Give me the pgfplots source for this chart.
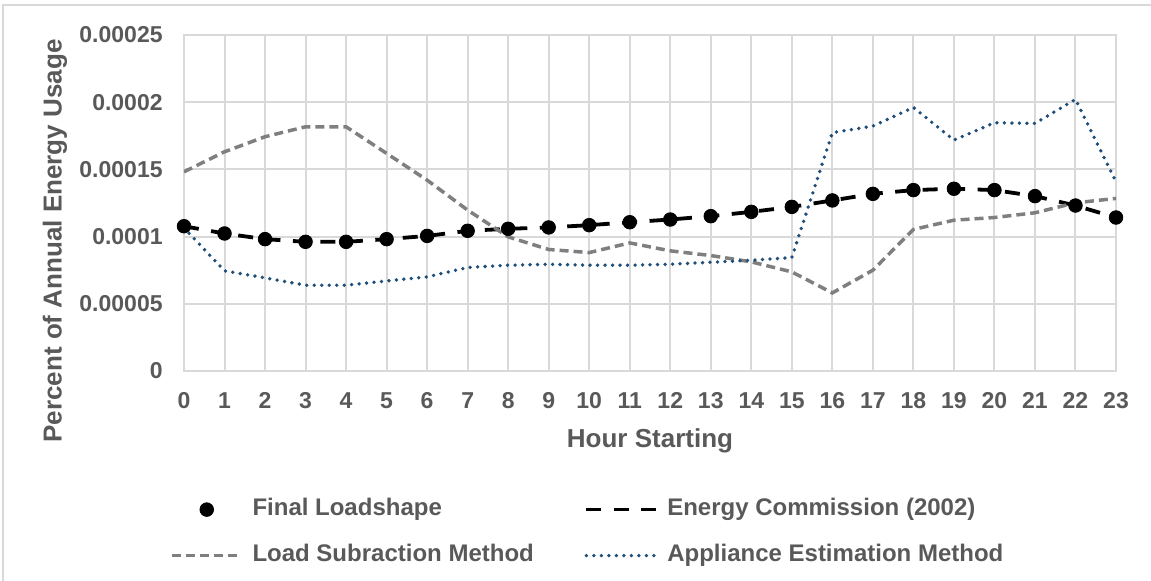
\documentclass[border=0pt]{standalone}
\usepackage{pgfplots}
\usepackage{pgfplotstable}
\pgfplotsset{compat=1.18}
\usepackage{fontspec}
\setmainfont{Liberation Sans}

\definecolor{txt}{HTML}{595959}
\definecolor{gridc}{HTML}{D9D9D9}
\definecolor{lsgray}{HTML}{7F7F7F}
\definecolor{aeblue}{HTML}{1F4E79}

\pgfplotsset{
    dotlegend/.style={legend image code/.code={\draw[##1, only marks] plot coordinates {(17.5pt,0pt)};}},
    linelegend/.style={legend image code/.code={\draw[##1] (0pt,0pt) -- (#1,0pt);}},
}

% hour, final loadshape, energy commission (2002), load subtraction, appliance estimation
\pgfplotstableread{
h final ec ls ae
0 0.0001077 0.0001077 0.0001482 0.0001065
1 0.0001023 0.0001023 0.0001631 0.0000745
2 0.0000981 0.0000981 0.0001743 0.0000693
3 0.0000961 0.0000961 0.0001817 0.0000638
4 0.0000961 0.0000961 0.0001817 0.0000638
5 0.0000981 0.0000981 0.0001619 0.0000670
6 0.0001005 0.0001005 0.0001420 0.0000700
7 0.0001043 0.0001043 0.0001197 0.0000770
8 0.0001058 0.0001058 0.0000998 0.0000787
9 0.0001068 0.0001068 0.0000904 0.0000794
10 0.0001085 0.0001085 0.0000881 0.0000787
11 0.0001107 0.0001107 0.0000953 0.0000787
12 0.0001127 0.0001127 0.0000894 0.0000794
13 0.0001152 0.0001152 0.0000859 0.0000809
14 0.0001184 0.0001184 0.0000812 0.0000824
15 0.0001221 0.0001221 0.0000737 0.0000844
16 0.0001269 0.0001269 0.0000581 0.0001773
17 0.0001318 0.0001318 0.0000750 0.0001822
18 0.0001346 0.0001346 0.0001053 0.0001961
19 0.0001356 0.0001356 0.0001122 0.0001718
20 0.0001346 0.0001346 0.0001142 0.0001847
21 0.0001301 0.0001301 0.0001177 0.0001842
22 0.0001231 0.0001231 0.0001251 0.0002021
23 0.0001142 0.0001142 0.0001284 0.0001408
}\loadshapes

\begin{document}
\begin{tikzpicture}
\useasboundingbox (0,0) rectangle (575.5pt,290.5pt);
\draw[gridc, line width=0.75pt] (1.5pt,0) -- (1.5pt,288pt) -- (576pt,288pt);

\begin{axis}[
    at={(92pt,105pt)}, anchor=south west,
    scale only axis, width=466pt, height=168pt,
    xmin=0, xmax=23, ymin=0, ymax=0.00025,
    xtick={0,1,...,23},
    ytick={0,0.00005,0.0001,0.00015,0.0002,0.00025},
    yticklabels={0,0.00005,0.0001,0.00015,0.0002,0.00025},
    scaled y ticks=false,
    /pgf/number format/assume math mode=true,
    grid=major,
    major grid style={gridc, line width=1pt},
    axis line style={gridc, line width=1pt},
    tick style={draw=none},
    ticklabel style={font=\fontsize{11.5}{13}\selectfont\bfseries, text=txt, inner sep=0pt},
    yticklabel style={xshift=-10.5pt},
    xticklabel style={yshift=-10.5pt},
    xlabel={Hour Starting},
    ylabel={Percent of Annual Energy Usage},
    every axis x label/.style={at={(axis description cs:0.5,0)}, anchor=base, yshift=-38.5pt,
        font=\fontsize{13}{15}\selectfont\bfseries, text=txt, inner sep=0pt},
    every axis y label/.style={at={(axis description cs:-0.1384,0.387)}, anchor=center, rotate=90,
        font=\fontsize{13}{15}\selectfont\bfseries, text=txt, inner sep=0pt},
    legend columns=2,
    legend cell align=left,
    legend style={draw=none, fill=none, at={(-0.01502,-0.3768)}, anchor=north west,
        inner sep=0pt, outer sep=0pt,
        font=\fontsize{12}{14}\selectfont\bfseries, text=txt,
        nodes={inner sep=0pt, text height=9pt, text depth=3pt},
        row sep=11pt,
        /tikz/every odd column/.append style={column sep=4.5pt}},
]

\addplot[only marks, mark=*, mark size=3.4pt, black, dotlegend]
    table[x=h, y=final] {\loadshapes};
\addlegendentry{\makebox[166pt][l]{Final Loadshape}}

\addplot[black, line width=1.9pt, dash pattern=on 7.5pt off 6.25pt, mark=none, linelegend=35pt]
    table[x=h, y=ec] {\loadshapes};
\addlegendentry{Energy Commission (2002)}

\addplot[lsgray, line width=1.75pt, dash pattern=on 4.5pt off 2.5pt, mark=none, linelegend=35pt]
    table[x=h, y=ls] {\loadshapes};
\addlegendentry{\makebox[166pt][l]{Load Subraction Method}}

\addplot[aeblue, line width=1.9pt, line cap=round, dash pattern=on 0pt off 3.75pt, mark=none, linelegend=34pt]
    table[x=h, y=ae] {\loadshapes};
\addlegendentry{Appliance Estimation Method}

\end{axis}
\end{tikzpicture}
\end{document}
